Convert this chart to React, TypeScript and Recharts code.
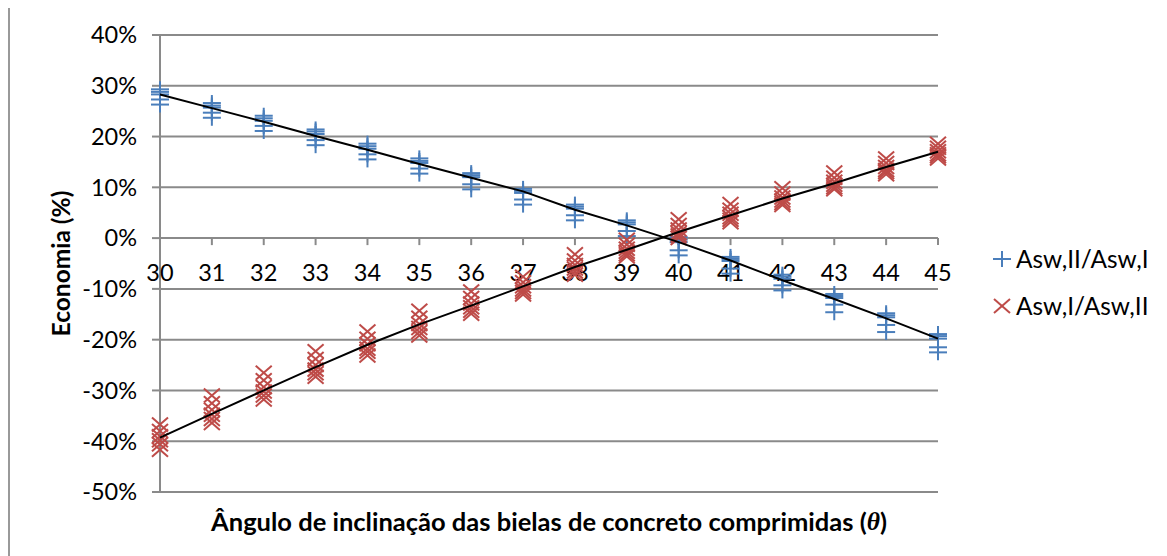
import { ScatterChart, Scatter, XAxis, YAxis, CartesianGrid, Legend } from "recharts";

const angles = [30, 31, 32, 33, 34, 35, 36, 37, 38, 39, 40, 41, 42, 43, 44, 45];
const yTicks = [-50, -40, -30, -20, -10, 0, 10, 20, 30, 40];

// Asw,II/Asw,I economy (%) – several cases per angle
const blueValues = [
  [29.3, 28.8, 28.3, 27.3, 26.3],
  [26.6, 26.1, 25.7, 24.7, 23.7],
  [24.1, 23.6, 23.1, 22.1, 21.1],
  [21.4, 21.0, 20.5, 19.3, 18.3],
  [18.6, 18.1, 17.6, 16.5, 15.5],
  [15.7, 15.2, 14.8, 13.7, 12.7],
  [12.8, 12.4, 12.0, 10.6, 9.6],
  [9.7, 9.3, 8.9, 7.6, 6.6],
  [6.6, 6.2, 5.8, 4.5, 3.5],
  [3.5, 3.1, 2.7, 1.4, 0.4],
  [0.2, -0.3, -0.8, -2.4, -3.4],
  [-3.7, -4.1, -4.5, -6.0, -7.0],
  [-7.2, -7.6, -8.0, -9.3, -10.3],
  [-11.0, -11.4, -11.8, -13.1, -14.6],
  [-14.8, -15.2, -15.6, -17.1, -18.5],
  [-18.9, -19.3, -19.8, -21.5, -22.5],
];

// Asw,I/Asw,II economy (%)
const redValues = [
  [-36.7, -38.0, -39.0, -39.8, -40.6, -41.7],
  [-31.0, -32.5, -33.8, -34.8, -35.6, -36.4],
  [-26.5, -28.0, -29.3, -30.2, -31.0, -31.8],
  [-22.3, -23.8, -25.0, -25.9, -26.6, -27.3],
  [-18.4, -19.8, -20.9, -21.8, -22.4, -23.1],
  [-14.3, -15.7, -16.9, -17.7, -18.5, -19.2],
  [-10.5, -11.8, -12.9, -13.6, -14.3, -14.9],
  [-7.6, -8.7, -9.5, -10.1, -10.6, -11.1],
  [-3.2, -4.4, -5.3, -6.0, -6.6, -7.2],
  [-0.3, -1.3, -2.1, -2.7, -3.2, -3.6],
  [3.7, 2.6, 1.7, 1.0, 0.5, 0.0],
  [6.7, 5.6, 4.8, 4.1, 3.6, 3.1],
  [9.8, 8.8, 8.0, 7.4, 6.9, 6.5],
  [12.9, 11.9, 11.1, 10.5, 10.0, 9.6],
  [15.7, 14.8, 14.0, 13.4, 13.0, 12.6],
  [18.6, 17.8, 17.1, 16.5, 16.1, 15.7],
];

// black trend lines
const blueTrend = [28.3, 25.6, 22.9, 20.1, 17.4, 14.6, 11.9, 9.2, 5.6, 2.5, -0.8, -4.4, -8.3, -12.0, -15.8, -19.8];
const redTrend = [-39.3, -34.6, -30.0, -25.4, -21.0, -17.0, -13.3, -9.5, -5.7, -2.3, 1.2, 4.5, 7.8, 10.8, 14.0, 17.0];

const BLUE = "#4a7ebb";
const RED = "#be4b48";
const GRID = "#8a8a8a";
const FONT = "Lato, 'Noto Sans', sans-serif";

const blueData = angles.flatMap((a, i) => blueValues[i].map((v) => ({ x: a, y: v })));
const redData = angles.flatMap((a, i) => redValues[i].map((v) => ({ x: a, y: v })));
const blueLine = angles.map((a, i) => ({ x: a, y: blueTrend[i] }));
const redLine = angles.map((a, i) => ({ x: a, y: redTrend[i] }));
const axisMarks = angles.map((a) => ({ x: a, y: 0 }));

function PlusMark(props: any) {
  const { cx, cy } = props;
  return (
    <g stroke={BLUE} strokeWidth={2}>
      <line x1={cx - 9} x2={cx + 9} y1={cy} y2={cy} />
      <line x1={cx} x2={cx} y1={cy - 8} y2={cy + 8} />
    </g>
  );
}

function CrossMark(props: any) {
  const { cx, cy } = props;
  return (
    <g stroke={RED} strokeWidth={2}>
      <line x1={cx - 8} x2={cx + 8} y1={cy - 7} y2={cy + 7} />
      <line x1={cx - 8} x2={cx + 8} y1={cy + 7} y2={cy - 7} />
    </g>
  );
}

// category labels sit under the 0% line
function AxisMark(props: any) {
  const { cx, cy, payload } = props;
  return (
    <g>
      <line x1={cx} x2={cx} y1={cy} y2={cy + 7} stroke={GRID} strokeWidth={2} />
      <text x={cx} y={cy + 34} textAnchor="middle" dominantBaseline="central" fontSize={23.5} fill="#000">
        {payload.x}
      </text>
    </g>
  );
}

function renderLegend() {
  const items = [
    { label: "Asw,II/Asw,I", mark: "plus" },
    { label: "Asw,I/Asw,II", mark: "cross" },
  ];
  return (
    <div style={{ fontFamily: FONT, fontSize: 24.4, color: "#000" }}>
      {items.map((it) => (
        <div key={it.label} style={{ display: "flex", alignItems: "center", height: 47 }}>
          <svg width={18} height={18} style={{ marginRight: 5 }}>
            {it.mark === "plus" ? <PlusMark cx={9} cy={9} /> : <CrossMark cx={9} cy={9} />}
          </svg>
          <span>{it.label}</span>
        </div>
      ))}
    </div>
  );
}

export default function App() {
  return (
    <div
      style={{
        marginTop: -2,
        width: 1157,
        height: 548,
        borderLeft: `2px solid #999`,
        borderTop: `2px solid #999`,
        fontFamily: FONT,
      }}
    >
      <ScatterChart width={1157} height={548} margin={{ top: 27, right: 229, bottom: 14, left: 0 }}>
        <CartesianGrid vertical={false} stroke={GRID} strokeWidth={2} />
        <XAxis
          dataKey="x"
          type="number"
          domain={[30, 45]}
          ticks={angles}
          tick={false}
          tickLine={false}
          axisLine={false}
          height={50}
          label={(p: any) => {
            const vb = p.viewBox;
            return (
              <text
                x={vb.x + vb.width / 2}
                y={vb.y + 29}
                textAnchor="middle"
                dominantBaseline="central"
                fontSize={25.5}
                fontWeight="bold"
                fill="#000"
              >
                Ângulo de inclinação das bielas de concreto comprimidas (
                <tspan fontStyle="italic" fontFamily="'Liberation Serif', serif">θ</tspan>)
              </text>
            );
          }}
        />
        <YAxis
          dataKey="y"
          type="number"
          domain={[-50, 40]}
          ticks={yTicks}
          width={150}
          tickFormatter={(v) => `${v}%`}
          tick={{ fontSize: 23.5, fill: "#000" }}
          tickSize={8}
          tickMargin={15}
          tickLine={{ stroke: GRID, strokeWidth: 2 }}
          axisLine={{ stroke: GRID, strokeWidth: 2 }}
          label={(p: any) => {
            const vb = p.viewBox;
            const cy = vb.y + vb.height / 2;
            return (
              <text
                x={50}
                y={cy}
                transform={`rotate(-90, 50, ${cy})`}
                textAnchor="middle"
                dominantBaseline="central"
                fontSize={24.5}
                fontWeight="bold"
                fill="#000"
              >
                Economia (%)
              </text>
            );
          }}
        />
        <Legend
          layout="horizontal"
          verticalAlign="middle"
          align="center"
          content={renderLegend}
          wrapperStyle={{ left: 983, top: 227, width: 174 }}
        />
        <Scatter data={axisMarks} shape={AxisMark} legendType="none" isAnimationActive={false} />
        <Scatter name="Asw,II/Asw,I" data={blueData} shape={PlusMark} isAnimationActive={false} />
        <Scatter name="Asw,I/Asw,II" data={redData} shape={CrossMark} isAnimationActive={false} />
        <Scatter
          data={blueLine}
          line={{ stroke: "#000", strokeWidth: 2 }}
          shape={() => <g />}
          legendType="none"
          isAnimationActive={false}
        />
        <Scatter
          data={redLine}
          line={{ stroke: "#000", strokeWidth: 2 }}
          shape={() => <g />}
          legendType="none"
          isAnimationActive={false}
        />
      </ScatterChart>
    </div>
  );
}
